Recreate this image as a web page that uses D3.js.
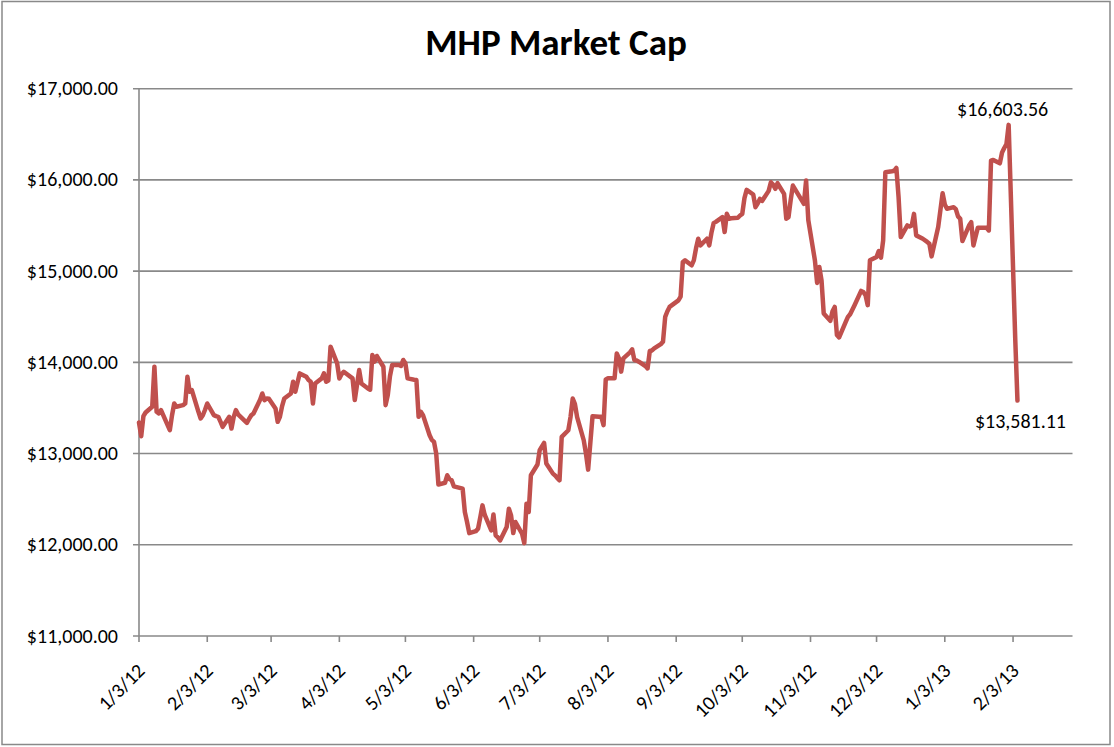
<!DOCTYPE html>
<html>
<head>
<meta charset="utf-8">
<script src="https://cdn.jsdelivr.net/npm/d3@7"></script>
<style>
  html, body { margin: 0; padding: 0; background: #fff; }
  svg { display: block; }
  text { font-family: Calibri, Carlito, "Open Sans", sans-serif; fill: #000; }
</style>
</head>
<body>
<svg id="chart" width="1114" height="747"></svg>
<script>
// trading days
const dates = [
  "2012-01-03","2012-01-04","2012-01-05","2012-01-06","2012-01-09","2012-01-10","2012-01-11","2012-01-12","2012-01-13",
  "2012-01-17","2012-01-18","2012-01-19","2012-01-20","2012-01-23","2012-01-24","2012-01-25","2012-01-26","2012-01-27",
  "2012-01-30","2012-01-31","2012-02-01","2012-02-02","2012-02-03","2012-02-06","2012-02-07","2012-02-08","2012-02-09",
  "2012-02-10","2012-02-13","2012-02-14","2012-02-15","2012-02-16","2012-02-17","2012-02-21","2012-02-22","2012-02-23",
  "2012-02-24","2012-02-27","2012-02-28","2012-02-29","2012-03-01","2012-03-02","2012-03-05","2012-03-06","2012-03-07",
  "2012-03-08","2012-03-09","2012-03-12","2012-03-13","2012-03-14","2012-03-15","2012-03-16","2012-03-19","2012-03-20",
  "2012-03-21","2012-03-22","2012-03-23","2012-03-26","2012-03-27","2012-03-28","2012-03-29","2012-03-30","2012-04-02",
  "2012-04-03","2012-04-04","2012-04-05","2012-04-09","2012-04-10","2012-04-11","2012-04-12","2012-04-13","2012-04-16",
  "2012-04-17","2012-04-18","2012-04-19","2012-04-20","2012-04-23","2012-04-24","2012-04-25","2012-04-26","2012-04-27",
  "2012-04-30","2012-05-01","2012-05-02","2012-05-03","2012-05-04","2012-05-07","2012-05-08","2012-05-09","2012-05-10",
  "2012-05-11","2012-05-14","2012-05-15","2012-05-16","2012-05-17","2012-05-18","2012-05-21","2012-05-22","2012-05-23",
  "2012-05-24","2012-05-25","2012-05-29","2012-05-30","2012-05-31","2012-06-01","2012-06-04","2012-06-05","2012-06-06",
  "2012-06-07","2012-06-08","2012-06-11","2012-06-12","2012-06-13","2012-06-14","2012-06-15","2012-06-18","2012-06-19",
  "2012-06-20","2012-06-21","2012-06-22","2012-06-25","2012-06-26","2012-06-27","2012-06-28","2012-06-29","2012-07-02",
  "2012-07-03","2012-07-05","2012-07-06","2012-07-09","2012-07-10","2012-07-11","2012-07-12","2012-07-13","2012-07-16",
  "2012-07-17","2012-07-18","2012-07-19","2012-07-20","2012-07-23","2012-07-24","2012-07-25","2012-07-27","2012-07-30",
  "2012-07-31","2012-08-01","2012-08-02","2012-08-03","2012-08-06","2012-08-07","2012-08-08","2012-08-09","2012-08-10",
  "2012-08-13","2012-08-14","2012-08-15","2012-08-16","2012-08-17","2012-08-20","2012-08-21","2012-08-22","2012-08-23",
  "2012-08-24","2012-08-27","2012-08-28","2012-08-29","2012-08-30","2012-08-31","2012-09-04","2012-09-05","2012-09-06",
  "2012-09-07","2012-09-10","2012-09-11","2012-09-12","2012-09-13","2012-09-14","2012-09-17","2012-09-18","2012-09-19",
  "2012-09-20","2012-09-21","2012-09-24","2012-09-25","2012-09-26","2012-09-27","2012-09-28","2012-10-01","2012-10-02",
  "2012-10-03","2012-10-04","2012-10-05","2012-10-08","2012-10-09","2012-10-10","2012-10-11","2012-10-12","2012-10-15",
  "2012-10-16","2012-10-17","2012-10-18","2012-10-19","2012-10-22","2012-10-23","2012-10-24","2012-10-25","2012-10-26",
  "2012-10-31","2012-11-01","2012-11-02","2012-11-05","2012-11-06","2012-11-07","2012-11-08","2012-11-09","2012-11-12",
  "2012-11-13","2012-11-14","2012-11-15","2012-11-16","2012-11-19","2012-11-20","2012-11-21","2012-11-23","2012-11-26",
  "2012-11-27","2012-11-28","2012-11-29","2012-11-30","2012-12-03","2012-12-04","2012-12-05","2012-12-06","2012-12-07",
  "2012-12-10","2012-12-11","2012-12-12","2012-12-13","2012-12-14","2012-12-17","2012-12-18","2012-12-19","2012-12-20",
  "2012-12-21","2012-12-24","2012-12-26","2012-12-27","2012-12-28","2012-12-31","2013-01-02","2013-01-03","2013-01-04",
  "2013-01-07","2013-01-08","2013-01-09","2013-01-10","2013-01-11","2013-01-14","2013-01-15","2013-01-16","2013-01-17",
  "2013-01-18","2013-01-22","2013-01-23","2013-01-24","2013-01-25","2013-01-28","2013-01-29","2013-01-30","2013-01-31",
  "2013-02-01","2013-02-04","2013-02-05"
]

const marketCap = [
  13340,13190,13410,13450,13513,13952,13458,13440,13476,
  13256,13420,13549,13513,13531,13549,13842,13678,13696,
  13458,13385,13420,13480,13549,13421,13410,13403,13350,
  13293,13403,13275,13400,13476,13430,13337,13380,13420,
  13440,13590,13659,13586,13604,13600,13495,13348,13403,
  13520,13604,13659,13787,13678,13780,13879,13842,13806,
  13787,13549,13769,13824,13879,13787,13800,14172,13989,
  13824,13870,13897,13824,13586,13750,13916,13769,13714,
  13700,14081,14007,14070,13952,13531,13641,13850,13971,
  13971,13960,14026,13989,13824,13810,13806,13403,13458,
  13421,13201,13150,13128,13000,12660,12680,12762,12720,
  12707,12641,12615,12359,12250,12128,12150,12176,12300,
  12432,12330,12158,12333,12103,12080,12048,12194,12396,
  12322,12128,12249,12121,12018,12451,12359,12762,12880,
  13037,13117,12890,12780,12760,12730,12707,13183,13256,
  13400,13604,13542,13400,13146,13000,12824,13410,13403,
  13403,13311,13813,13825,13825,14098,14044,13898,14044,
  14110,14142,14026,14020,14007,13960,13934,14124,14130,
  14153,14200,14226,14499,14560,14608,14680,14720,15100,
  15118,15064,15118,15250,15355,15282,15355,15282,15420,
  15526,15540,15592,15428,15628,15574,15580,15585,15610,
  15628,15800,15891,15840,15701,15740,15792,15770,15880,
  15974,15950,15902,15964,15847,15574,15592,15780,15938,
  15738,15993,15560,15118,14871,15046,14900,14536,14455,
  14560,14608,14299,14273,14445,14499,14528,14627,14783,
  14772,14736,14627,15118,15155,15220,15148,15337,16084,
  16095,16100,16131,15811,15373,15501,15490,15501,15628,
  15392,15355,15320,15300,15162,15483,15854,15730,15683,
  15701,15680,15600,15574,15330,15500,15537,15282,15380,
  15475,15475,15446,16211,16219,16182,16300,16350,16393,
  16603.56,14250,13581.11
]

const xTickLabels = ["1/3/12","2/3/12","3/3/12","4/3/12","5/3/12","6/3/12","7/3/12",
  "8/3/12","9/3/12","10/3/12","11/3/12","12/3/12","1/3/13","2/3/13"]
const yTicks = [11000, 12000, 13000, 14000, 15000, 16000, 17000]
const xDomain = ["2012-01-03", "2013-03-02"]

const parseDay = d3.timeParse("%Y-%m-%d")
const parseTick = d3.timeParse("%m/%d/%y")
const data = dates.map((d, i) => ({ date: parseDay(d), value: marketCap[i] }))

const svg = d3.select("#chart")
const grey = "#898989"
const plotLeft = 139, plotRight = 1072.5, plotTop = 88.7, plotBottom = 636

// outer frame
svg.append("rect")
  .attr("x", 2).attr("y", 1.5)
  .attr("width", 1108).attr("height", 743)
  .attr("fill", "none")
  .attr("stroke", grey)
  .attr("stroke-width", 1.5)

const x = d3.scaleTime()
  .domain(xDomain.map(parseDay))
  .range([plotLeft, plotRight])

const y = d3.scaleLinear()
  .domain([11000, 17000])
  .range([plotBottom, plotTop])

// horizontal grid
svg.append("g")
  .selectAll("line")
  .data(yTicks)
  .join("line")
  .attr("x1", plotLeft - 6).attr("x2", plotRight)
  .attr("y1", d => y(d)).attr("y2", d => y(d))
  .attr("stroke", grey)
  .attr("stroke-width", 1.6)

// y axis
svg.append("line")
  .attr("x1", plotLeft).attr("x2", plotLeft)
  .attr("y1", plotTop).attr("y2", plotBottom)
  .attr("stroke", grey)
  .attr("stroke-width", 1.6)

svg.append("g")
  .selectAll("text")
  .data(yTicks)
  .join("text")
  .attr("x", 118)
  .attr("y", d => y(d) + 6.5)
  .attr("text-anchor", "end")
  .style("font-size", "20px")
  .text(d => d3.format("$,.2f")(d))

// x axis ticks + rotated labels
const xTicks = xTickLabels.map(parseTick)

svg.append("g")
  .selectAll("line")
  .data(xTicks)
  .join("line")
  .attr("x1", d => x(d)).attr("x2", d => x(d))
  .attr("y1", plotBottom).attr("y2", plotBottom + 6)
  .attr("stroke", grey)
  .attr("stroke-width", 1.6)

svg.append("g")
  .selectAll("text")
  .data(xTicks)
  .join("text")
  .attr("text-anchor", "end")
  .attr("transform", d => `translate(${x(d) + 7},${plotBottom + 36}) rotate(-45)`)
  .style("font-size", "20px")
  .text(d => d3.timeFormat("%-m/%-d/%y")(d))

// the series
const line = d3.line()
  .x(d => x(d.date))
  .y(d => y(d.value))

svg.append("path")
  .datum(data)
  .attr("d", line)
  .attr("fill", "none")
  .attr("stroke", "#C0504D")
  .attr("stroke-width", 4.5)
  .attr("stroke-linejoin", "round")
  .attr("stroke-linecap", "round")

// data labels on peak and last value
const peak = data[data.length - 3]
const last = data[data.length - 1]
const money = d3.format("$,.2f")

svg.append("text")
  .attr("x", x(peak.date) - 6)
  .attr("y", y(peak.value) - 9)
  .attr("text-anchor", "middle")
  .style("font-size", "20px")
  .text(money(peak.value))

svg.append("text")
  .attr("x", x(last.date) + 3)
  .attr("y", y(last.value) + 27)
  .attr("text-anchor", "middle")
  .style("font-size", "20px")
  .text(money(last.value))

// title
svg.append("text")
  .attr("x", 556)
  .attr("y", 55)
  .attr("text-anchor", "middle")
  .style("font-size", "37px")
  .style("font-weight", "bold")
  .text("MHP Market Cap")
</script>
</body>
</html>
